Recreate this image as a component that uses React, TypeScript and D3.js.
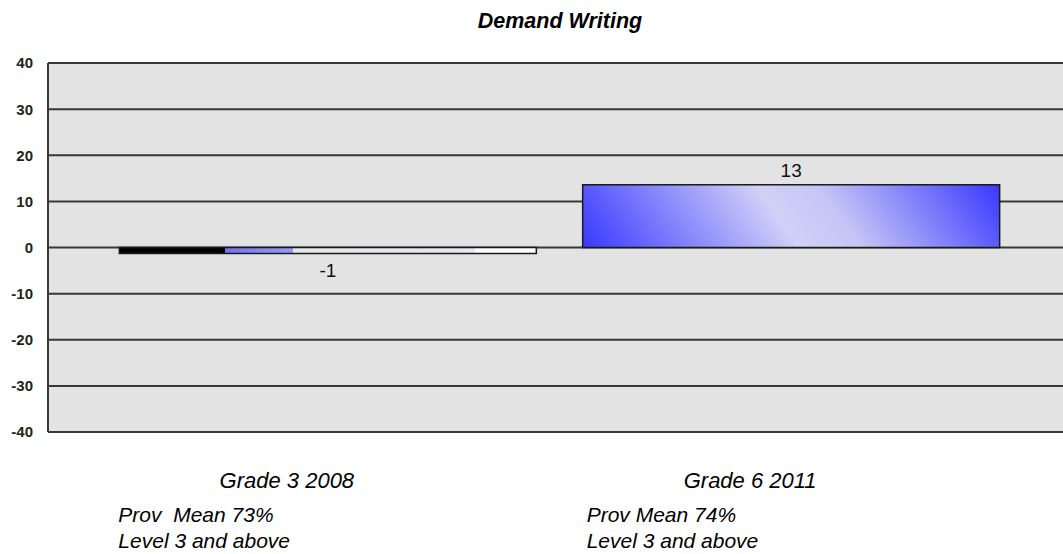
import React from "react";
import * as d3 from "d3";

const title = "Demand Writing";
const categories = ["Grade 3 2008", "Grade 6 2011"];
const values = [-1.3, 13.6];
const valueLabels = ["-1", "13"];
const provLines = [
  ["Prov  Mean 73%", "Level 3 and above"],
  ["Prov Mean 74%", "Level 3 and above"],
];
const yTicks = [-40, -30, -20, -10, 0, 10, 20, 30, 40];

const W = 1063;
const H = 554;
const plotLeft = 48;
const plotRight = 1071;
const plotTop = 63;
const plotBottom = 432;

export default function App() {
  const x = d3
    .scaleBand<string>()
    .domain(categories)
    .range([plotLeft, plotRight])
    .paddingInner(0.1)
    .paddingOuter(0.154);
  const y = d3.scaleLinear().domain([-40, 40]).range([plotBottom, plotTop]);
  const font = "'Liberation Sans', Arial, sans-serif";

  // diagonal gradient geometry for the positive bar
  const bx0 = x(categories[1])!;
  const bw = x.bandwidth();
  const byTop = y(values[1]);
  const byBot = y(0);
  const bh = byBot - byTop;
  const dx = 0.813, dy = -0.583;
  const L = bw * dx + bh * -dy;

  return (
    <svg
      width={W}
      height={H}
      style={{ position: "absolute", left: 0, top: 0, background: "#fff" }}
    >
      <defs>
        <linearGradient id="negGrad" x1="0" y1="0" x2="1" y2="0">
          <stop offset="0" stopColor="#000" />
          <stop offset="0.254" stopColor="#000" />
          <stop offset="0.254" stopColor="#7474ee" />
          <stop offset="0.416" stopColor="#9a9af2" />
          <stop offset="0.416" stopColor="#e6e6ee" />
          <stop offset="0.852" stopColor="#e8e8ee" />
          <stop offset="0.852" stopColor="#ffffff" />
          <stop offset="1" stopColor="#ffffff" />
        </linearGradient>
        <linearGradient
          id="posGrad"
          gradientUnits="userSpaceOnUse"
          x1={bx0}
          y1={byBot}
          x2={bx0 + L * dx}
          y2={byBot + L * dy}
        >
          <stop offset="0" stopColor="#3838ff" />
          <stop offset="0.47" stopColor="#d0d0f8" />
          <stop offset="0.6" stopColor="#c6c6f6" />
          <stop offset="1" stopColor="#3838ff" />
        </linearGradient>
      </defs>

      <text
        x={560}
        y={28}
        textAnchor="middle"
        fontFamily={font}
        fontWeight="bold"
        fontStyle="italic"
        fontSize={21.5}
        fill="#000"
      >
        {title}
      </text>

      <rect
        x={plotLeft}
        y={plotTop}
        width={plotRight - plotLeft}
        height={plotBottom - plotTop}
        fill="#e3e3e3"
      />

      {yTicks.map((t) => (
        <g key={t}>
          <line
            x1={plotLeft}
            x2={plotRight}
            y1={y(t)}
            y2={y(t)}
            stroke="#383838"
            strokeWidth={2}
          />
          <text
            x={33}
            y={y(t)}
            dy="0.36em"
            textAnchor="end"
            fontFamily={font}
            fontWeight="bold"
            fontSize={15}
            fill="#222"
          >
            {t}
          </text>
        </g>
      ))}
      <line
        x1={plotLeft}
        x2={plotLeft}
        y1={plotTop}
        y2={plotBottom}
        stroke="#383838"
        strokeWidth={2}
      />

      {categories.map((c, i) => {
        const v = values[i];
        const x0 = x(c)!;
        const top = y(Math.max(0, v));
        const h = Math.abs(y(v) - y(0));
        return (
          <g key={c}>
            <rect
              x={x0}
              y={top}
              width={x.bandwidth()}
              height={h}
              fill={v < 0 ? "url(#negGrad)" : "url(#posGrad)"}
              stroke="#1a1a1a"
              strokeWidth={1.5}
            />
            <text
              x={x0 + x.bandwidth() / 2}
              y={v < 0 ? y(v) + 24 : y(v) - 8}
              textAnchor="middle"
              fontFamily={font}
              fontSize={19}
              fill="#111"
            >
              {valueLabels[i]}
            </text>
            <text
              x={x0 + x.bandwidth() / 2 - 41}
              y={488}
              textAnchor="middle"
              fontFamily={font}
              fontStyle="italic"
              fontSize={22}
              fill="#000"
            >
              {c}
            </text>
            {provLines[i].map((ln, j) => (
              <text
                key={j}
                x={x0 + (i === 0 ? -1 : 4)}
                y={522 + j * 26}
                fontFamily={font}
                fontStyle="italic"
                fontSize={21}
                fill="#000"
                style={{ whiteSpace: "pre" }}
              >
                {ln}
              </text>
            ))}
          </g>
        );
      })}
    </svg>
  );
}
